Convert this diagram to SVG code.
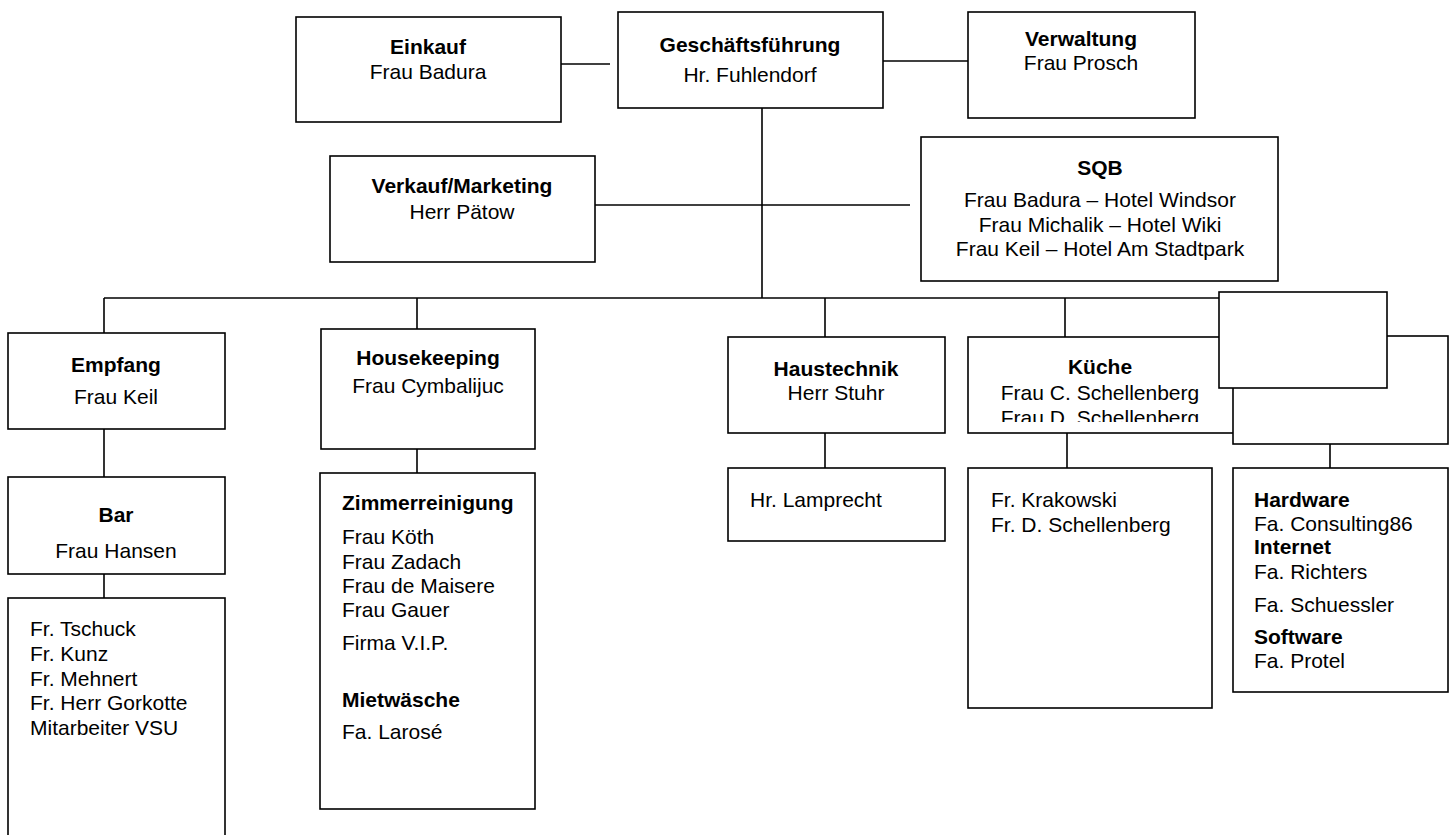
<svg xmlns="http://www.w3.org/2000/svg" width="1453" height="835" viewBox="0 0 1453 835">
<style>
.b{fill:#fff;stroke:#000;stroke-width:1.6}
.c line{stroke:#000;stroke-width:1.6}
text{font-family:"Liberation Sans",Arial,sans-serif;font-size:21px;fill:#000}
.m{text-anchor:middle}
.h{font-weight:bold}
</style>
<defs>
<clipPath id="kclip"><rect x="968" y="337" width="268" height="85"/></clipPath>
</defs>
<rect width="1453" height="835" fill="#fff"/>
<g id="connectors" class="c">
<line x1="561" y1="64" x2="610" y2="64"/>
<line x1="883" y1="61" x2="968" y2="61"/>
<line x1="762" y1="108" x2="762" y2="298"/>
<line x1="595" y1="205" x2="910" y2="205"/>
<line x1="104" y1="298" x2="1219" y2="298"/>
<line x1="104" y1="298" x2="104" y2="333"/>
<line x1="417" y1="298" x2="417" y2="329"/>
<line x1="825" y1="298" x2="825" y2="337"/>
<line x1="1065" y1="298" x2="1065" y2="337"/>
<line x1="104" y1="429" x2="104" y2="477"/>
<line x1="104" y1="574" x2="104" y2="598"/>
<line x1="417" y1="449" x2="417" y2="473"/>
<line x1="825" y1="433" x2="825" y2="468"/>
<line x1="1067" y1="433" x2="1067" y2="468"/>
<line x1="1330" y1="444" x2="1330" y2="468"/>
</g>
<g id="einkauf">
<rect class="b" x="296" y="17" width="265" height="105"/>
<text class="m h" x="428" y="54">Einkauf</text>
<text class="m" x="428" y="79">Frau Badura</text>
</g>
<g id="geschaeftsfuehrung">
<rect class="b" x="618" y="12" width="265" height="96"/>
<text class="m h" x="750" y="52">Geschäftsführung</text>
<text class="m" x="750" y="82">Hr. Fuhlendorf</text>
</g>
<g id="verwaltung">
<rect class="b" x="968" y="12" width="227" height="106"/>
<text class="m h" x="1081" y="46">Verwaltung</text>
<text class="m" x="1081" y="70">Frau Prosch</text>
</g>
<g id="verkauf">
<rect class="b" x="330" y="156" width="265" height="106"/>
<text class="m h" x="462" y="193">Verkauf/Marketing</text>
<text class="m" x="462" y="219">Herr Pätow</text>
</g>
<g id="sqb">
<rect class="b" x="921" y="137" width="357" height="144"/>
<text class="m h" x="1100" y="175">SQB</text>
<text class="m" x="1100" y="207">Frau Badura – Hotel Windsor</text>
<text class="m" x="1100" y="232">Frau Michalik – Hotel Wiki</text>
<text class="m" x="1100" y="256">Frau Keil – Hotel Am Stadtpark</text>
</g>
<g id="empfang">
<rect class="b" x="8" y="333" width="217" height="96"/>
<text class="m h" x="116" y="372">Empfang</text>
<text class="m" x="116" y="404">Frau Keil</text>
</g>
<g id="bar">
<rect class="b" x="8" y="477" width="217" height="97"/>
<text class="m h" x="116" y="522">Bar</text>
<text class="m" x="116" y="558">Frau Hansen</text>
</g>
<g id="bar-staff">
<rect class="b" x="8" y="598" width="217" height="245"/>
<text x="30" y="636">Fr. Tschuck</text>
<text x="30" y="661">Fr. Kunz</text>
<text x="30" y="686">Fr. Mehnert</text>
<text x="30" y="710">Fr. Herr Gorkotte</text>
<text x="30" y="735">Mitarbeiter VSU</text>
</g>
<g id="housekeeping">
<rect class="b" x="321" y="329" width="214" height="120"/>
<text class="m h" x="428" y="365">Housekeeping</text>
<text class="m" x="428" y="393">Frau Cymbalijuc</text>
</g>
<g id="zimmerreinigung">
<rect class="b" x="320" y="473" width="215" height="336"/>
<text class="h" x="342" y="510">Zimmerreinigung</text>
<text x="342" y="544">Frau Köth</text>
<text x="342" y="569">Frau Zadach</text>
<text x="342" y="593">Frau de Maisere</text>
<text x="342" y="617">Frau Gauer</text>
<text x="342" y="650">Firma V.I.P.</text>
<text class="h" x="342" y="707">Mietwäsche</text>
<text x="342" y="739">Fa. Larosé</text>
</g>
<g id="haustechnik">
<rect class="b" x="728" y="337" width="217" height="96"/>
<text class="m h" x="836" y="376">Haustechnik</text>
<text class="m" x="836" y="400">Herr Stuhr</text>
</g>
<g id="lamprecht">
<rect class="b" x="728" y="468" width="217" height="73"/>
<text x="750" y="507">Hr. Lamprecht</text>
</g>
<g id="kueche">
<rect class="b" x="968" y="337" width="268" height="96"/>
<g clip-path="url(#kclip)">
<text class="m h" x="1100" y="374">Küche</text>
<text class="m" x="1100" y="400">Frau C. Schellenberg</text>
<text class="m" x="1100" y="425">Frau D. Schellenberg</text>
</g>
</g>
<g id="kueche-staff">
<rect class="b" x="968" y="468" width="244" height="240"/>
<text x="991" y="507">Fr. Krakowski</text>
<text x="991" y="532">Fr. D. Schellenberg</text>
</g>
<g id="it">
<rect class="b" x="1233" y="336" width="215" height="108"/>
</g>
<g id="blank">
<rect class="b" x="1219" y="292" width="168" height="96"/>
</g>
<g id="it-staff">
<rect class="b" x="1233" y="468" width="215" height="224"/>
<text class="h" x="1254" y="507">Hardware</text>
<text x="1254" y="531">Fa. Consulting86</text>
<text class="h" x="1254" y="554">Internet</text>
<text x="1254" y="579">Fa. Richters</text>
<text x="1254" y="612">Fa. Schuessler</text>
<text class="h" x="1254" y="644">Software</text>
<text x="1254" y="668">Fa. Protel</text>
</g>
</svg>
